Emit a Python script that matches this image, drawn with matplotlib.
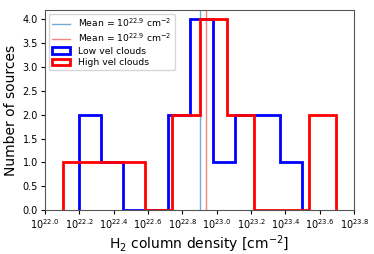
import matplotlib
matplotlib.use("Agg")
import matplotlib.pyplot as plt
import numpy as np

# Data (log10 of H2 column density, cm^-2)
low_edges = [22.196, 22.326, 22.456, 22.586, 22.716, 22.846, 22.976, 23.106, 23.236, 23.366, 23.496]
low_counts = [2, 1, 0, 0, 2, 4, 1, 2, 2, 1]
high_edges = [22.105, 22.264, 22.423, 22.582, 22.741, 22.900, 23.059, 23.218, 23.377, 23.536, 23.695]
high_counts = [1, 1, 1, 0, 2, 4, 2, 0, 0, 2]
low_mean = 22.90
high_mean = 22.935
xticks = [22.0, 22.2, 22.4, 22.6, 22.8, 23.0, 23.2, 23.4, 23.6, 23.8]
yticks = [0.0, 0.5, 1.0, 1.5, 2.0, 2.5, 3.0, 3.5, 4.0]

fig = plt.figure(figsize=(3.74, 2.54), dpi=100)
ax = fig.add_axes([0.120, 0.173, 0.827, 0.788])

l1 = ax.axvline(low_mean, color='#5b9bd5', alpha=0.85, lw=1.0,
                label=r'Mean = $10^{22.9}$ cm$^{-2}$')
l2 = ax.axvline(high_mean, color='#f07070', alpha=0.85, lw=1.0,
                label=r'Mean = $10^{22.9}$ cm$^{-2}$')

lc = np.array(low_edges)
hc = np.array(high_edges)
_, _, p1 = ax.hist((lc[:-1] + lc[1:]) / 2, bins=low_edges, weights=low_counts,
                   histtype='step', color='blue', lw=2, label='Low vel clouds')
_, _, p2 = ax.hist((hc[:-1] + hc[1:]) / 2, bins=high_edges, weights=high_counts,
                   histtype='step', color='red', lw=2, label='High vel clouds')

ax.set_xlim(22.0, 23.8)
ax.set_ylim(0, 4.2)
ax.set_xticks(xticks)
ax.set_xticklabels([r'$10^{%.1f}$' % t for t in xticks], fontsize=7)
ax.set_yticks(yticks)
ax.set_yticklabels(['%.1f' % t for t in yticks], fontsize=7)
ax.tick_params(length=3, width=0.8, pad=2)
for s in ax.spines.values():
    s.set_color('#555555')
ax.set_xlabel(r'H$_2$ column density [cm$^{-2}$]', fontsize=10, labelpad=2)
ax.set_ylabel('Number of sources', fontsize=10, labelpad=3)

ax.legend(handles=[l1, l2, p1[0], p2[0]], loc='upper left', fontsize=6.7,
          handlelength=2.0, borderaxespad=0.4, labelspacing=0.25,
          borderpad=0.35)

fig.savefig('out.png', dpi=100)
